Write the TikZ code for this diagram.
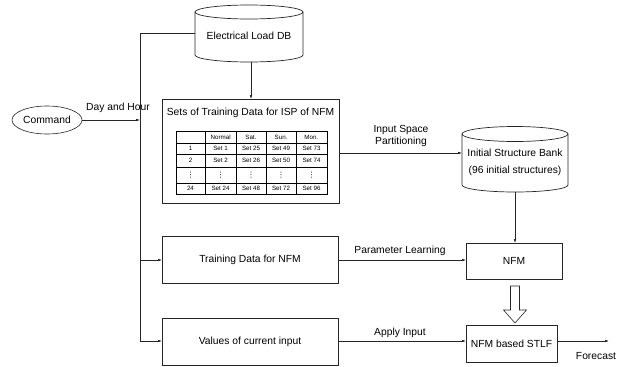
\documentclass[tikz,border=0pt]{standalone}
\usepackage{fontspec}
\setmainfont{Liberation Sans}
\newfontfamily\dejavu{DejaVu Sans}
\usetikzlibrary{arrows.meta,shapes.geometric}
\begin{document}
\begin{tikzpicture}[x=1pt,y=-1pt,
  every node/.style={font=\fontsize{10.3}{12}\selectfont, inner sep=0pt, outer sep=0pt},
  line/.style={line width=0.6pt, draw=black!85},
  arr/.style={line, -{Latex[length=4pt,width=2.6pt]}},
  boxn/.style={draw=black!85, line width=0.7pt, rectangle},
  tab/.style={font=\fontsize{6.2}{7}\selectfont},
  lbl/.style={align=center}]
\useasboundingbox (0,0) rectangle (625,367);

% Command
\node[draw=black!85, line width=0.6pt, ellipse, minimum width=70pt, minimum height=28pt] (cmd) at (47,120) {Command};

% Electrical Load DB cylinder
\draw[line width=0.7pt, draw=black!85] (249,12) ellipse[x radius=54, y radius=7];
\draw[line width=0.7pt, draw=black!85] (195,12) -- (195,55) arc[start angle=180, end angle=0, x radius=54, y radius=7] -- (303,12);
\node (db) at (249,36) {Electrical Load DB};
\coordinate (dbW) at (195,33);
\coordinate (dbS) at (251,62);

% Sets of training data box
\node[boxn, minimum width=177pt, minimum height=104pt] (sets) at (250.5,151) {};
\node (setsT) at (250.5,113) {Sets of Training Data for ISP of NFM};
% table
\draw[line width=0.5pt] (176,131) rectangle (327,194);
\foreach \yy in {143,154,167,183} \draw[line width=0.5pt] (176,\yy) -- (327,\yy);
\foreach \xx in {205,236,266,296} \draw[line width=0.5pt] (\xx,131) -- (\xx,194);
\foreach \txt [count=\c] in {Normal,Sat.,Sun.,Mon.}
  \node[tab] (h\c) at ({190.5+30.2*\c},137) {\txt};
\foreach \r/\y/\a/\b/\cc/\d/\e in {1/148.5/1/Set 1/Set 25/Set 49/Set 73, 2/160.5/2/Set 2/Set 26/Set 50/Set 74, 4/188.5/24/Set 24/Set 48/Set 72/Set 96}{
  \node[tab] (r\r a) at (190.5,\y) {\a};
  \node[tab] (r\r b) at (220.5,\y) {\b};
  \node[tab] (r\r c) at (251,\y) {\cc};
  \node[tab] (r\r d) at (281,\y) {\d};
  \node[tab] (r\r e) at (311.5,\y) {\e};
}
\foreach \xx [count=\c] in {190.5,220.5,251,281,311.5}
  \node[font=\dejavu\fontsize{7.5}{8}\selectfont] (dots\c) at (\xx,175) {⋮};

% Initial Structure Bank cylinder
\draw[line width=0.7pt, draw=black!85] (515,134) ellipse[x radius=53, y radius=7.5];
\draw[line width=0.7pt, draw=black!85] (462,134) -- (462,185) arc[start angle=180, end angle=0, x radius=53, y radius=7] -- (568,134);
\node[lbl] (isb) at (515,162.5) {Initial Structure Bank\\[5pt](96 initial structures)};
\coordinate (isbW) at (462,153);
\coordinate (isbS) at (515,192);

% other boxes
\node[boxn, minimum width=176pt, minimum height=47pt] (train) at (250,259.5) {Training Data for NFM};
\node[boxn, minimum width=176pt, minimum height=47pt] (vals) at (250,341.5) {Values of current input};
\node[boxn, minimum width=96pt, minimum height=36pt] (nfm) at (514,261) {NFM};
\node[boxn, minimum width=91pt, minimum height=37pt] (stlf) at (511.5,343.5) {NFM based STLF};

% trunk line
\coordinate (jt) at (140,33);
\coordinate (jc) at (140,120);
\coordinate (jtr) at (140,260);
\coordinate (jv) at (140,341);
\draw[line] (jt) -- (jv);
\draw[line] (jt) -- (dbW);
\draw[arr] (cmd.east) -- (jc);
\node (dh) at (118,108) {Day and Hour};
\draw[arr] (jtr) -- (train.west |- jtr);
\draw[arr] (jv) -- (vals.west |- jv);

% flows
\draw[arr] (dbS) -- (sets.north -| dbS);
\draw[arr] (sets.east |- isbW) -- (isbW);
\node[lbl] (isp) at (401,136) {Input Space\\Partitioning};
\draw[arr] (isbS) -- (nfm.north -| isbS);
\draw[arr] (train.east |- jtr) -- (nfm.west |- jtr);
\node (pl) at (400,251) {Parameter Learning};
\draw[arr] (vals.east |- jv) -- (stlf.west |- jv);
\node (ai) at (400,333) {Apply Input};
\coordinate (fc) at (609,341);
\draw[arr] (stlf.east |- fc) -- (fc);
\node (fcl) at (596,356) {Forecast};

% block arrow
\draw[line width=0.6pt, draw=black!85] (510.5,286) -- (519.5,286) -- (519.5,310) -- (526.5,310) -- (515,323) -- (503.5,310) -- (510.5,310) -- cycle;
\end{tikzpicture}
\end{document}
